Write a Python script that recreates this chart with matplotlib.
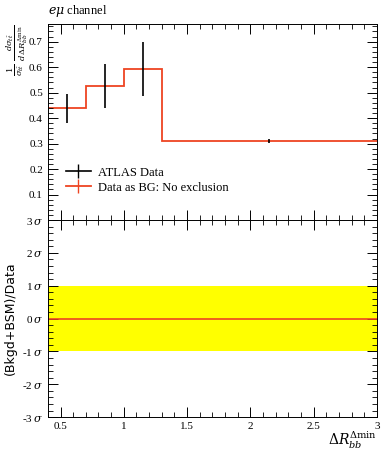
import numpy as np
import matplotlib.pyplot as plt
from matplotlib.lines import Line2D
from matplotlib.legend_handler import HandlerTuple
from matplotlib.ticker import MultipleLocator, FixedLocator

plt.rcParams['font.family'] = ['Liberation Serif', 'DejaVu Serif']
plt.rcParams['mathtext.fontset'] = 'dejavuserif'

# Data
bin_edges = [0.4, 0.7, 1.0, 1.3, 3.0]
bin_centres = [0.55, 0.85, 1.15, 2.15]
data_vals = [0.44, 0.527, 0.593, 0.31]
err_up = [0.055, 0.085, 0.107, 0.008]
err_down = [0.06, 0.087, 0.108, 0.008]
bg_vals = [0.44, 0.527, 0.593, 0.31]

sigma_ticks = [-3, -2, -1, 0, 1, 2, 3]
sigma_labels = ['-3$\\,\\sigma$', '-2$\\,\\sigma$', '-1$\\,\\sigma$', '0$\\,\\sigma$',
                '1$\\,\\sigma$', '2$\\,\\sigma$', '3$\\,\\sigma$']

red = '#ee4422'

fig = plt.figure(figsize=(3.89, 4.5), dpi=100)
ax = fig.add_axes([0.123, 0.511, 0.846, 0.436])
ax2 = fig.add_axes([0.123, 0.073, 0.846, 0.438])

# Main panel
ax.stairs(bg_vals, bin_edges, color=red, linewidth=1.3, baseline=None)
ax.errorbar(bin_centres, data_vals, yerr=[err_down, err_up], fmt='none',
            ecolor='black', elinewidth=1.2)
ax.set_xlim(0.4, 3.0)
ax.set_ylim(0.0, 0.77)
ax.yaxis.set_major_locator(MultipleLocator(0.1))
ax.yaxis.set_minor_locator(MultipleLocator(0.02))
ax.xaxis.set_major_locator(MultipleLocator(0.5))
ax.xaxis.set_minor_locator(MultipleLocator(0.1))
ax.set_yticks(np.arange(0.1, 0.75, 0.1))
ax.set_yticklabels(['0.1', '0.2', '0.3', '0.4', '0.5', '0.6', '0.7'])
ax.tick_params(labelbottom=False)
ax.set_ylabel(r'$\frac{1}{\sigma_{t\bar{t}}}\;\frac{d\sigma_{t\bar{t}}}{d\,\Delta R_{bb}^{\Delta\mathrm{min}}}$',
              fontsize=8.5, loc='top')
ax.yaxis.set_label_coords(-0.055, 1.0)
ax.text(0.0, 1.025, r'$e\mu$ channel', transform=ax.transAxes, fontsize=9,
        ha='left', va='bottom')

h_data = (Line2D([], [], color='black', lw=1.2),
          Line2D([], [], color='black', marker='|', markersize=10, linestyle='none'))
h_bg = (Line2D([], [], color=red, lw=1.3),
        Line2D([], [], color=red, marker='|', markersize=10, linestyle='none'))
ax.legend([h_data, h_bg], ['ATLAS Data', 'Data as BG: No exclusion'],
          handler_map={tuple: HandlerTuple(ndivide=1, pad=0)},
          loc='upper left', bbox_to_anchor=(0.02, 0.33), frameon=False,
          fontsize=9, handlelength=2.0, handletextpad=0.6, labelspacing=0.25)

# Ratio panel
ax2.axhspan(-1, 1, color='#ffff00', linewidth=0)
ax2.axhline(0, color=red, linewidth=1.2)
ax2.set_xlim(0.4, 3.0)
ax2.set_ylim(-3, 3)
ax2.xaxis.set_major_locator(MultipleLocator(0.5))
ax2.xaxis.set_minor_locator(MultipleLocator(0.1))
ax2.set_xticks([0.5, 1, 1.5, 2, 2.5, 3])
ax2.set_xticklabels(['0.5', '1', '1.5', '2', '2.5', '3'])
ax2.yaxis.set_major_locator(FixedLocator(sigma_ticks))
ax2.set_yticklabels(sigma_labels)
ax2.yaxis.set_minor_locator(MultipleLocator(0.2))
ax2.set_ylabel('(Bkgd+BSM)/Data', family='DejaVu Sans', fontsize=9)
ax2.set_xlabel(r'$\Delta R_{bb}^{\Delta\mathrm{min}}$', fontsize=10, ha='right', va='top')
ax2.xaxis.set_label_coords(1.0, -0.065)

for a in (ax, ax2):
    a.tick_params(which='both', direction='in', top=True, right=True, labelsize=8)
    a.tick_params(which='major', length=7, width=0.7)
    a.tick_params(which='minor', length=3.5, width=0.6)
    for s in a.spines.values():
        s.set_linewidth(0.7)

fig.savefig('out.png', dpi=100)
